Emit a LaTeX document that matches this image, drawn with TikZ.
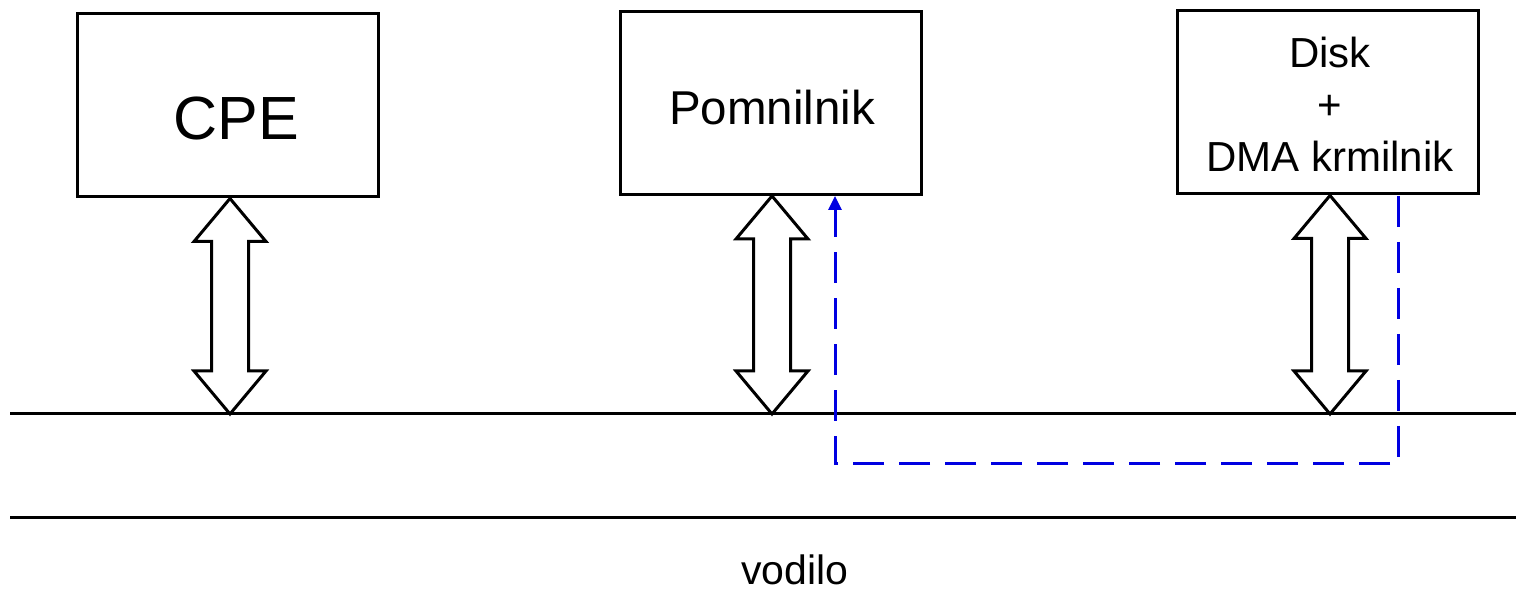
\documentclass[tikz,border=0pt]{standalone}
\usepackage{fontspec}
\setmainfont{Liberation Sans}
\usetikzlibrary{calc}
\usetikzlibrary{arrows.meta}

\definecolor{dmablue}{RGB}{0,0,225}

% hollow double arrow between a box and the bus
\newcommand{\busarrow}[2]{%
  \draw[busarr] (#1) -- ++(36,43) -- ++(-17.5,0) -- ($(#2)+(18.5,-43)$)
    -- ++(17.5,0) -- (#2) -- ++(-36,-43) -- ++(17.5,0)
    -- ($(#1)+(-18.5,43)$) -- ++(-17.5,0) -- cycle;}

\begin{document}
\begin{tikzpicture}[x=1pt, y=-1pt,
    box/.style={draw, line width=3pt, minimum width=301pt, minimum height=183pt, inner sep=0pt},
    busline/.style={line width=3pt},
    busarr/.style={line width=3pt, fill=white, line join=miter},
    dmaflow/.style={dmablue, line width=3pt, dash pattern=on 31pt off 15pt,
      -{Triangle[length=14pt, width=13pt]}}]
    \useasboundingbox (0,0) rectangle (1516,593);

    \node[box] (cpe) at (227.5, 105.5) {};
    \node[box] (mem) at (770.5, 103)   {};
    \node[box] (disk) at (1327.5, 102.5) {};

    \node (cpetxt) at (236, 119) {\fontsize{61}{70}\selectfont CPE};
    \node (memtxt) at (772, 108) {\fontsize{47.5}{55}\selectfont Pomnilnik};
    \node[align=center, font=\fontsize{42}{52}\selectfont] (disktxt) at (1330, 104)
        {Disk\\+\\DMA krmilnik};

    % vodilo
    \coordinate (bus) at (10, 414);
    \coordinate (busend) at (1516, 414);
    \coordinate (low) at (10, 517);
    \coordinate (lowend) at (1516, 517);
    \draw[busline] (bus) -- (busend);
    \draw[busline] (low) -- (lowend);
    \node[inner sep=0pt] (vodilo) at (795, 570) {\fontsize{41}{48}\selectfont vodilo};

    \busarrow{$(cpe.south)+(2.5,0)$}{$(cpe.south |- bus)+(2.5,0)$}
    \busarrow{$(mem.south)+(1.5,0)$}{$(mem.south |- bus)+(1.5,0)$}
    \busarrow{$(disk.south)+(2.5,0)$}{$(disk.south |- bus)+(2.5,0)$}

    % DMA prenos
    \coordinate (dmaout) at (1398, 196);
    \coordinate (dmain) at (835, 196);
    \coordinate (dmaturn) at (1398, 464);
    \draw[dmaflow] (dmaout) -- (dmaturn) -| (dmain);
\end{tikzpicture}
\end{document}
